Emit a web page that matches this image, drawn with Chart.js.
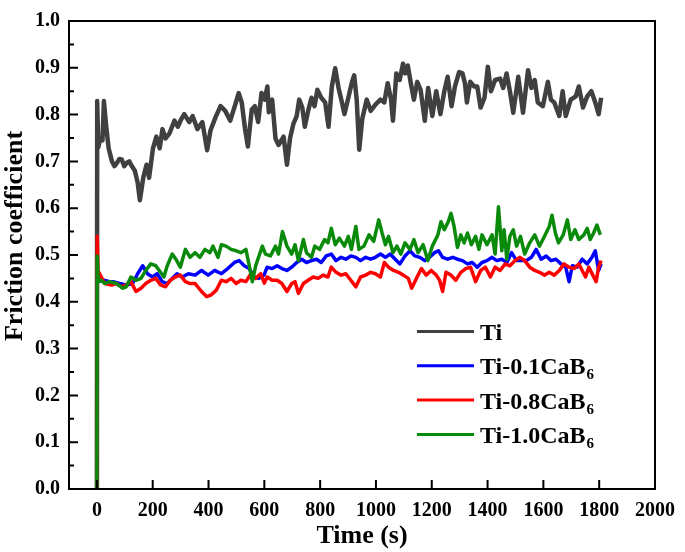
<!DOCTYPE html>
<html>
<head>
<meta charset="utf-8">
<script src="https://cdn.jsdelivr.net/npm/chart.js@4.4.1/dist/chart.umd.min.js"></script>
<style>
  html, body { margin: 0; padding: 0; background: #fff; }
</style>
</head>
<body>
<canvas id="myChart" width="685" height="552"></canvas>
<script>
// values
const seriesNames = ["Ti", "Ti-0.1CaB6", "Ti-0.8CaB6", "Ti-1.0CaB6"];
const seriesColors = ["#404040", "#0000ff", "#ff0000", "#0a8a0a"];

const xTicks = [0, 200, 400, 600, 800, 1000, 1200, 1400, 1600, 1800, 2000];
const yTicks = [0.0, 0.1, 0.2, 0.3, 0.4, 0.5, 0.6, 0.7, 0.8, 0.9, 1.0];

const tiTime = [0, 1, 5, 12, 20, 25, 33, 42, 54, 63, 72, 80, 89, 98, 107, 116, 125, 136, 146, 154, 160, 166, 178, 187, 201, 213, 225, 235, 246, 260, 278, 290, 302, 313, 331, 343, 360, 378, 395, 407, 425, 443, 460, 478, 496, 508, 519, 531, 541, 555, 566, 578, 590, 601, 611, 616, 628, 640, 651, 669, 681, 692, 704, 716, 725, 736, 745, 757, 769, 780, 790, 804, 818, 830, 842, 854, 866, 877, 887, 901, 913, 922, 931, 940, 951, 967, 981, 999, 1016, 1030, 1042, 1054, 1061, 1073, 1085, 1097, 1105, 1114, 1125, 1136, 1148, 1160, 1175, 1187, 1202, 1216, 1231, 1245, 1257, 1271, 1283, 1298, 1310, 1319, 1326, 1338, 1352, 1363, 1375, 1389, 1401, 1412, 1427, 1445, 1456, 1468, 1480, 1492, 1510, 1527, 1545, 1557, 1569, 1580, 1598, 1616, 1627, 1639, 1657, 1669, 1680, 1698, 1716, 1727, 1742, 1757, 1772, 1786, 1798, 1807];
const tiFriction = [0, 0.829, 0.73, 0.75, 0.745, 0.829, 0.777, 0.728, 0.70, 0.69, 0.697, 0.705, 0.704, 0.69, 0.697, 0.70, 0.69, 0.68, 0.655, 0.617, 0.64, 0.665, 0.693, 0.665, 0.728, 0.753, 0.728, 0.769, 0.749, 0.76, 0.787, 0.774, 0.79, 0.801, 0.784, 0.797, 0.769, 0.784, 0.724, 0.766, 0.794, 0.818, 0.808, 0.787, 0.822, 0.846, 0.826, 0.769, 0.732, 0.811, 0.818, 0.784, 0.846, 0.832, 0.86, 0.805, 0.832, 0.749, 0.735, 0.753, 0.693, 0.749, 0.78, 0.797, 0.832, 0.815, 0.774, 0.808, 0.836, 0.818, 0.853, 0.836, 0.826, 0.774, 0.86, 0.899, 0.857, 0.829, 0.801, 0.836, 0.867, 0.884, 0.832, 0.725, 0.791, 0.832, 0.808, 0.822, 0.832, 0.826, 0.867, 0.832, 0.787, 0.888, 0.874, 0.909, 0.888, 0.905, 0.867, 0.832, 0.87, 0.853, 0.787, 0.857, 0.797, 0.85, 0.801, 0.85, 0.881, 0.818, 0.86, 0.891, 0.888, 0.867, 0.826, 0.87, 0.86, 0.86, 0.815, 0.836, 0.902, 0.85, 0.874, 0.877, 0.857, 0.888, 0.85, 0.804, 0.881, 0.804, 0.895, 0.857, 0.874, 0.826, 0.818, 0.87, 0.832, 0.826, 0.797, 0.85, 0.797, 0.832, 0.839, 0.86, 0.815, 0.839, 0.85, 0.826, 0.801, 0.836];

const ti01Time = [0, 1, 5, 25, 46, 58, 81, 105, 128, 146, 164, 181, 199, 216, 234, 252, 270, 287, 305, 328, 352, 375, 399, 422, 446, 469, 493, 510, 528, 546, 563, 581, 599, 610, 628, 646, 663, 681, 698, 716, 734, 751, 769, 787, 804, 822, 840, 857, 875, 892, 910, 928, 945, 963, 981, 998, 1016, 1034, 1051, 1069, 1086, 1104, 1122, 1139, 1157, 1175, 1192, 1210, 1224, 1239, 1257, 1275, 1292, 1310, 1328, 1345, 1363, 1380, 1398, 1416, 1433, 1451, 1469, 1486, 1504, 1521, 1539, 1557, 1574, 1592, 1610, 1627, 1645, 1663, 1680, 1692, 1704, 1721, 1739, 1757, 1774, 1786, 1798, 1807];
const ti01Friction = [0, 0.465, 0.443, 0.446, 0.443, 0.443, 0.439, 0.436, 0.439, 0.46, 0.477, 0.46, 0.453, 0.46, 0.443, 0.439, 0.45, 0.46, 0.453, 0.46, 0.457, 0.467, 0.457, 0.467, 0.46, 0.471, 0.484, 0.488, 0.477, 0.471, 0.453, 0.45, 0.457, 0.474, 0.471, 0.477, 0.471, 0.467, 0.474, 0.484, 0.491, 0.484, 0.488, 0.491, 0.484, 0.498, 0.502, 0.488, 0.495, 0.491, 0.498, 0.495, 0.488, 0.495, 0.491, 0.495, 0.502, 0.495, 0.502, 0.491, 0.481, 0.498, 0.509, 0.498, 0.495, 0.488, 0.495, 0.505, 0.509, 0.495, 0.491, 0.495, 0.491, 0.488, 0.481, 0.484, 0.474, 0.484, 0.488, 0.495, 0.488, 0.491, 0.484, 0.505, 0.488, 0.488, 0.488, 0.495, 0.512, 0.491, 0.498, 0.488, 0.491, 0.481, 0.474, 0.443, 0.477, 0.474, 0.491, 0.481, 0.495, 0.509, 0.467, 0.481];

const ti08Time = [0, 1, 4, 12, 28, 52, 70, 87, 105, 122, 140, 158, 175, 193, 211, 228, 246, 263, 281, 299, 317, 334, 352, 375, 393, 410, 428, 446, 463, 481, 499, 516, 534, 552, 569, 587, 600, 610, 628, 646, 663, 681, 698, 710, 722, 740, 757, 775, 793, 810, 828, 840, 857, 875, 892, 910, 928, 945, 963, 981, 998, 1016, 1030, 1045, 1063, 1081, 1098, 1116, 1128, 1145, 1163, 1180, 1198, 1216, 1228, 1239, 1251, 1269, 1286, 1304, 1322, 1339, 1357, 1375, 1392, 1410, 1427, 1445, 1463, 1480, 1498, 1516, 1533, 1551, 1569, 1586, 1604, 1621, 1639, 1657, 1674, 1692, 1710, 1727, 1739, 1751, 1763, 1777, 1789, 1798, 1807];
const ti08Friction = [0, 0.54, 0.467, 0.457, 0.439, 0.436, 0.439, 0.432, 0.436, 0.443, 0.422, 0.429, 0.439, 0.446, 0.45, 0.436, 0.432, 0.446, 0.453, 0.457, 0.443, 0.439, 0.439, 0.422, 0.411, 0.415, 0.425, 0.446, 0.443, 0.45, 0.439, 0.446, 0.443, 0.46, 0.45, 0.46, 0.44, 0.453, 0.446, 0.446, 0.439, 0.422, 0.439, 0.443, 0.418, 0.439, 0.446, 0.453, 0.45, 0.457, 0.453, 0.474, 0.463, 0.457, 0.46, 0.446, 0.432, 0.453, 0.457, 0.463, 0.46, 0.453, 0.484, 0.474, 0.467, 0.463, 0.457, 0.45, 0.429, 0.45, 0.471, 0.457, 0.467, 0.457, 0.446, 0.422, 0.463, 0.457, 0.446, 0.463, 0.471, 0.474, 0.443, 0.467, 0.474, 0.453, 0.474, 0.467, 0.481, 0.477, 0.488, 0.495, 0.488, 0.474, 0.467, 0.463, 0.457, 0.463, 0.457, 0.467, 0.481, 0.474, 0.471, 0.481, 0.467, 0.453, 0.474, 0.457, 0.443, 0.474, 0.488];

const ti10Time = [0, 1, 5, 15, 28, 46, 70, 93, 105, 122, 140, 158, 175, 193, 211, 228, 240, 252, 270, 283, 299, 317, 334, 352, 369, 387, 405, 416, 434, 446, 463, 481, 499, 516, 534, 546, 557, 569, 581, 593, 604, 622, 640, 651, 665, 681, 698, 710, 722, 740, 751, 769, 781, 798, 816, 828, 840, 854, 869, 887, 901, 912, 928, 939, 957, 975, 992, 1010, 1022, 1034, 1045, 1061, 1075, 1089, 1104, 1122, 1136, 1151, 1169, 1186, 1202, 1222, 1233, 1245, 1259, 1269, 1280, 1292, 1304, 1316, 1328, 1342, 1357, 1369, 1380, 1398, 1416, 1427, 1439, 1451, 1459, 1469, 1480, 1492, 1504, 1518, 1533, 1551, 1569, 1586, 1604, 1621, 1631, 1643, 1654, 1671, 1686, 1698, 1713, 1727, 1745, 1757, 1768, 1780, 1792, 1804];
const ti10Friction = [0, 0.498, 0.443, 0.446, 0.439, 0.443, 0.439, 0.429, 0.432, 0.453, 0.446, 0.45, 0.467, 0.481, 0.477, 0.463, 0.453, 0.477, 0.502, 0.491, 0.474, 0.512, 0.495, 0.505, 0.495, 0.512, 0.505, 0.519, 0.495, 0.522, 0.519, 0.512, 0.509, 0.505, 0.512, 0.477, 0.443, 0.477, 0.498, 0.519, 0.502, 0.498, 0.519, 0.502, 0.55, 0.519, 0.502, 0.522, 0.488, 0.533, 0.505, 0.495, 0.519, 0.512, 0.533, 0.526, 0.557, 0.522, 0.536, 0.519, 0.54, 0.512, 0.561, 0.512, 0.519, 0.543, 0.529, 0.575, 0.547, 0.522, 0.54, 0.505, 0.519, 0.502, 0.526, 0.512, 0.533, 0.505, 0.522, 0.488, 0.519, 0.543, 0.571, 0.554, 0.571, 0.589, 0.561, 0.516, 0.543, 0.526, 0.547, 0.522, 0.54, 0.512, 0.543, 0.522, 0.543, 0.502, 0.603, 0.509, 0.554, 0.491, 0.54, 0.554, 0.519, 0.54, 0.502, 0.526, 0.543, 0.519, 0.54, 0.561, 0.585, 0.547, 0.526, 0.543, 0.575, 0.533, 0.554, 0.533, 0.543, 0.557, 0.533, 0.547, 0.564, 0.543];

const times = [tiTime, ti01Time, ti08Time, ti10Time];
const values = [tiFriction, ti01Friction, ti08Friction, ti10Friction];

const fontFamily = "'Liberation Serif', 'Times New Roman', serif";
const ctx = document.getElementById("myChart").getContext("2d");

function toPoints(t, v) {
  return t.map((x, i) => ({ x: x, y: v[i] }));
}

// frame, inward ticks, y title and the legend with subscripts
const framePlugin = {
  id: "frame",
  afterDraw(chart) {
    const c = chart.ctx;
    const area = chart.chartArea;
    const xs = chart.scales.x;
    const ys = chart.scales.y;
    c.save();
    c.strokeStyle = "#000";
    c.lineWidth = 2;
    c.strokeRect(area.left, area.top, area.right - area.left, area.bottom - area.top);

    c.beginPath();
    yTicks.forEach((v) => {
      const py = ys.getPixelForValue(v);
      c.moveTo(area.left, py);
      c.lineTo(area.left + 9, py);
    });
    for (let i = 0; i < yTicks.length - 1; i++) {
      const py = ys.getPixelForValue((yTicks[i] + yTicks[i + 1]) / 2);
      c.moveTo(area.left, py);
      c.lineTo(area.left + 5, py);
    }
    xTicks.forEach((v) => {
      const px = xs.getPixelForValue(v);
      c.moveTo(px, area.bottom);
      c.lineTo(px, area.bottom - 9);
    });
    c.stroke();

    // y axis title, a bit above the middle like the original
    c.save();
    c.translate(15, 236);
    c.rotate(-Math.PI / 2);
    c.fillStyle = "#000";
    c.textAlign = "center";
    c.textBaseline = "middle";
    c.font = "bold 26px " + fontFamily;
    c.fillText("Friction coefficient", 0, 0);
    c.restore();

    // legend
    const lx = 417;
    const ly = 331.5;
    const gap = 34.3;
    seriesNames.forEach((name, i) => {
      const y = ly + i * gap;
      c.strokeStyle = seriesColors[i];
      c.lineWidth = 3;
      c.beginPath();
      c.moveTo(lx, y);
      c.lineTo(lx + 57, y);
      c.stroke();

      const m = name.match(/^(.*CaB)(\d)$/);
      const main = m ? m[1] : name;
      c.fillStyle = "#000";
      c.textAlign = "left";
      c.textBaseline = "alphabetic";
      c.font = "bold 24px " + fontFamily;
      c.fillText(main, lx + 63, y + 8.5);
      if (m) {
        const w = c.measureText(main).width;
        c.font = "bold 15px " + fontFamily;
        c.fillText(m[2], lx + 63 + w + 1, y + 13.5);
      }
    });
    c.restore();
  },
};

const datasets = seriesNames.map((name, i) => ({
  label: name,
  data: toPoints(times[i], values[i]),
  borderColor: seriesColors[i],
  backgroundColor: seriesColors[i],
  borderWidth: i === 0 ? 4.5 : 3.5,
  borderJoinStyle: "round",
  pointRadius: 0,
  tension: 0,
  fill: false,
  order: seriesNames.length - i,
}));

const myChart = new Chart(ctx, {
  type: "line",
  data: { datasets: datasets },
  options: {
    responsive: false,
    animation: false,
    layout: { padding: { top: 10, right: 21, left: 0, bottom: 0 } },
    plugins: {
      legend: { display: false },
      tooltip: { enabled: false },
    },
    scales: {
      x: {
        type: "linear",
        min: -100,
        max: 2000,
        afterFit: (s) => { s.height = 63; },
        afterBuildTicks: (s) => { s.ticks = xTicks.map((v) => ({ value: v })); },
        grid: { display: false, drawTicks: false },
        border: { display: false },
        ticks: {
          padding: 10,
          maxRotation: 0,
          autoSkip: false,
          color: "#000",
          font: { family: fontFamily, size: 20, weight: "bold" },
          callback: (v) => String(v),
        },
        title: {
          display: true,
          text: "Time (s)",
          color: "#000",
          padding: 0,
          font: { family: fontFamily, size: 26, weight: "bold" },
        },
      },
      y: {
        type: "linear",
        min: 0,
        max: 1,
        afterFit: (s) => { s.width = 69; },
        afterBuildTicks: (s) => { s.ticks = yTicks.map((v) => ({ value: v })); },
        grid: { display: false, drawTicks: false },
        border: { display: false },
        ticks: {
          padding: 9,
          autoSkip: false,
          color: "#000",
          font: { family: fontFamily, size: 20, weight: "bold" },
          callback: (v) => Number(v).toFixed(1),
        },
        title: { display: false },
      },
    },
  },
  plugins: [framePlugin],
});
</script>
</body>
</html>
